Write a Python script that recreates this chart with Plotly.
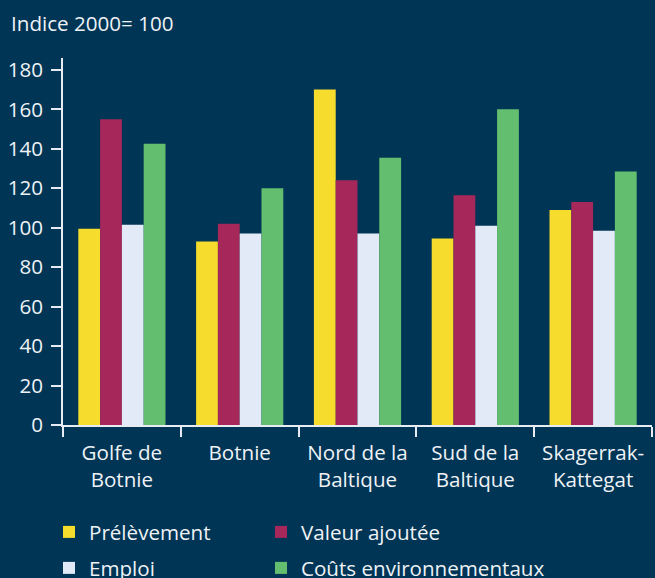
import plotly.graph_objects as go

categories = ["Golfe de<br>Botnie", "Botnie", "Nord de la<br>Baltique", "Sud de la<br>Baltique", "Skagerrak-<br>Kattegat"]
prelevement = [99.5, 93, 170, 94.5, 109]
valeur_ajoutee = [155, 102, 124, 116.5, 113]
emploi = [101.5, 97, 97, 101, 98.5]
couts_env = [142.5, 120, 135.5, 160, 128.5]
y_ticks = [0, 20, 40, 60, 80, 100, 120, 140, 160, 180]

BG = "#003555"
TXT = "#EEF2F6"
FONT = "Open Sans"
FS = 20.6
W, H = 655, 578

series = [
    ("Prélèvement", prelevement, "#F6DC2C", "legend", 49, 532),
    ("Valeur ajoutée", valeur_ajoutee, "#A6275A", "legend2", 261, 532),
    ("Emploi", emploi, "#E1EAF6", "legend3", 49, 568),
    ("Coûts environnementaux", couts_env, "#63BF6F", "legend4", 261, 568),
]

fig = go.Figure()
legends = {}
for name, vals, col, leg, lx, ly in series:
    fig.add_trace(go.Bar(x=categories, y=vals, name=name, marker=dict(color=col, line=dict(width=0)),
                         legend=leg, showlegend=True))
    legends[leg] = dict(orientation="h", xref="container", yref="container", x=lx / W, xanchor="left",
                        y=1 - ly / H, yanchor="middle", bgcolor="rgba(0,0,0,0)",
                        font=dict(family=FONT, size=FS, color=TXT))

fig.update_layout(
    width=W, height=H,
    showlegend=True,
    paper_bgcolor=BG, plot_bgcolor=BG,
    font=dict(family=FONT, size=FS, color=TXT),
    margin=dict(l=63, r=3, t=58, b=153, autoexpand=False),
    barmode="group", bargap=0.26, bargroupgap=0,
    title=dict(text="Indice 2000= 100", x=11 / W, xanchor="left", xref="container",
               y=1 - 24 / H, yanchor="middle", yref="container",
               font=dict(family=FONT, size=FS, color=TXT)),
    xaxis=dict(showline=True, linecolor="#E6ECF2", linewidth=1.5, ticks="outside", ticklen=10,
               tickwidth=1.5, tickcolor="#E6ECF2", tickson="boundaries", range=[-0.5, 4.5],
               showgrid=False, zeroline=False, tickfont=dict(size=FS, color=TXT),
               ticklabelstandoff=9),
    yaxis=dict(showline=True, linecolor="#E6ECF2", linewidth=1.5, ticks="outside", ticklen=10,
               tickwidth=1.5, tickcolor="#E6ECF2", range=[0, 186], tickvals=y_ticks,
               showgrid=False, zeroline=False, tickfont=dict(size=FS, color=TXT),
               ticklabelstandoff=4),
    **legends,
)

fig.write_html("out.html", config={"displayModeBar": False},
               post_script="document.body.style.margin='0';document.body.style.overflow='hidden';")
